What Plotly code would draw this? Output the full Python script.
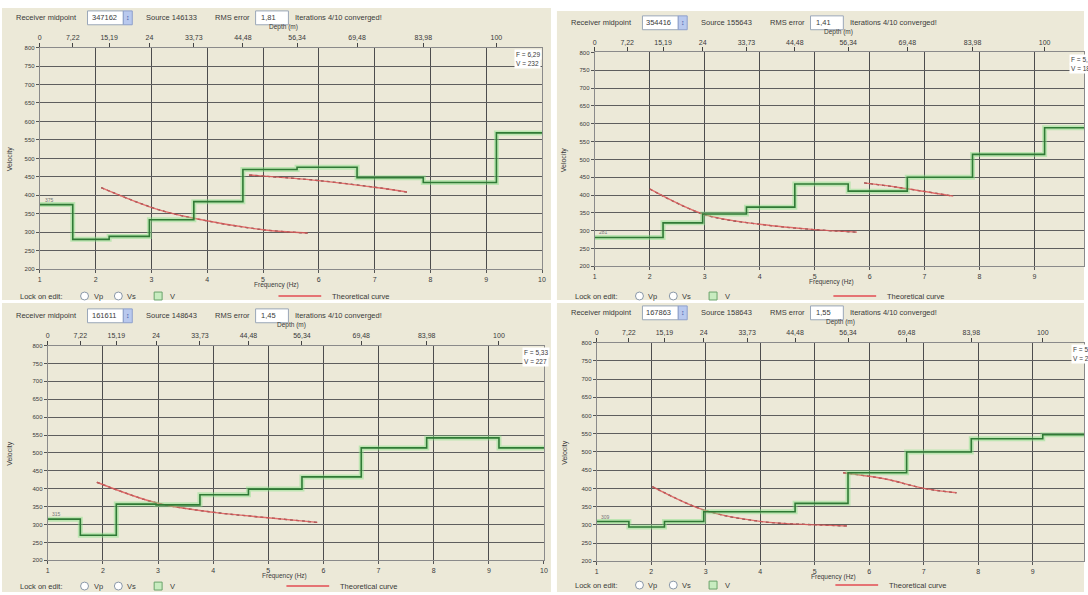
import plotly.graph_objects as go

W, H = 1088, 595

# ---- shared axes -------------------------------------------------------
depth_bounds = [0, 7.22, 15.19, 24, 33.73, 44.48, 56.34, 69.48, 83.98, 100]
depth_tick_text = ["0", "7,22", "15,19", "24", "33,73", "44,48", "56,34", "69,48", "83,98", "100"]
freq_ticks = [1, 2, 3, 4, 5, 6, 7, 8, 9, 10]
vel_ticks = [200, 250, 300, 350, 400, 450, 500, 550, 600, 650, 700, 750, 800]

# ---- per-panel header values -------------------------------------------
midpoints = ["347162", "354416", "161611", "167863"]
sources = ["146133", "155643", "148643", "158643"]
rms_errors = ["1,81", "1,41", "1,45", "1,55"]
iteration_text = ["4/10 converged!", "4/10 converged!", "4/10 converged!", "4/10 converged!"]
cursor_f = ["6,29", "5,13", "5,33", "5,06"]
cursor_v = ["232", "187", "227", "233"]

# ---- layer velocities (one value per layer, last = half-space) ---------
vel_p1 = [375, 281, 289, 334, 383, 470, 476, 448, 435, 569]
vel_p2 = [281, 281, 322, 347, 366, 431, 411, 450, 514, 589]
vel_p3 = [315, 270, 357, 355, 383, 399, 433, 514, 542, 514]
vel_p4 = [309, 294, 309, 336, 336, 359, 443, 500, 536, 547]

# ---- dispersion curves (frequency Hz, phase velocity) ------------------
p1_a_f = [2.1, 3.05, 3.76, 5.0, 5.8]
p1_a_v = [421, 365, 338, 307, 298]
p1_b_f = [4.75, 6.0, 7.1, 7.58]
p1_b_v = [455, 440, 420, 409]

p2_a_f = [2.0, 3.0, 4.0, 5.0, 5.77]
p2_a_v = [417, 345, 318, 303, 296]
p2_b_f = [5.9, 6.5, 7.52]
p2_b_v = [434, 422, 397]

p3_a_f = [1.89, 2.98, 4.02, 4.99, 5.89]
p3_a_v = [418, 360, 334, 319, 306]

p4_a_f = [2.02, 3.0, 4.03, 5.04, 5.59]
p4_a_v = [405, 339, 309, 300, 297]
p4_b_f = [5.52, 6.32, 7.0, 7.6]
p4_b_v = [443, 425, 400, 388]

profiles = [vel_p1, vel_p2, vel_p3, vel_p4]
curves = [
    [(p1_a_f, p1_a_v), (p1_b_f, p1_b_v)],
    [(p2_a_f, p2_a_v), (p2_b_f, p2_b_v)],
    [(p3_a_f, p3_a_v)],
    [(p4_a_f, p4_a_v), (p4_b_f, p4_b_v)],
]

# ---- panel geometry in pixels ------------------------------------------
panels = [
    dict(left=38, right=543, top=45, bottom=269, fmax=10.0, box=(0, 5, 552, 300), lock=296),
    dict(left=596, right=1088, top=50, bottom=266, fmax=9.9, box=(558, 8, 1088, 300), lock=296),
    dict(left=46, right=545, top=346, bottom=563, fmax=10.0, box=(0, 303, 552, 595), lock=589),
    dict(left=598, right=1088, top=343, bottom=564, fmax=9.94, box=(558, 303, 1088, 595), lock=588),
]
DEPTH_PER_HZ = 12.22  # metres of depth spanned by one Hz on the shared x scale

BEIGE = "#ece9d8"
TXT = "#3a3a3a"
FONT = "Liberation Sans"


def px(x):
    return x / W


def py(y):
    return 1 - y / H


fig = go.Figure()
shapes, annotations = [], []
layout = dict(width=W, height=H, margin=dict(l=0, r=0, t=0, b=0),
              paper_bgcolor="white", plot_bgcolor="white", showlegend=False,
              font=dict(family=FONT, size=8, color=TXT))


def text(x, y, s, size=8, anchor="left", color=TXT, angle=0, bg=None):
    a = dict(x=px(x), y=py(y), xref="paper", yref="paper", text=s, showarrow=False,
             xanchor=anchor, yanchor="middle", textangle=angle,
             font=dict(size=size, color=color, family=FONT))
    if bg:
        a["bgcolor"] = bg
    annotations.append(a)


def rect(x0, y0, x1, y1, fill, line="#8a8a8a", width=1, layer="below"):
    shapes.append(dict(type="rect", xref="paper", yref="paper", x0=px(x0), x1=px(x1),
                       y0=py(y1), y1=py(y0), fillcolor=fill,
                       line=dict(color=line, width=width), layer=layer))


for k, p in enumerate(panels):
    fi, di, yi = 2 * k + 1, 2 * k + 2, k + 1
    fname = "xaxis" if fi == 1 else f"xaxis{fi}"
    fref = "x" if fi == 1 else f"x{fi}"
    dname, dref = f"xaxis{di}", f"x{di}"
    yname = "yaxis" if yi == 1 else f"yaxis{yi}"
    yref = "y" if yi == 1 else f"y{yi}"
    dmax = (p["fmax"] - 1) * DEPTH_PER_HZ
    tick_font = dict(size=7, color=TXT, family=FONT)

    layout[fname] = dict(domain=[px(p["left"]), min(1.0, px(p["right"]))], range=[1, p["fmax"]],
                         anchor=yref, tickvals=freq_ticks, ticks="outside", ticklen=3,
                         tickcolor="#555", showgrid=True, gridcolor="#4d4d4d", gridwidth=1,
                         showline=True, linecolor="#8a8a8a", mirror=True, zeroline=False,
                         tickfont=tick_font, fixedrange=True)
    layout[dname] = dict(overlaying=fref, anchor=yref, side="top", range=[0, dmax],
                         tickvals=depth_bounds, ticktext=depth_tick_text, ticks="outside",
                         ticklen=4, tickcolor="#444", showgrid=False, showline=False,
                         zeroline=False, tickfont=tick_font, fixedrange=True)
    layout[yname] = dict(domain=[py(p["bottom"]), py(p["top"])], range=[200, 800],
                         anchor=fref, tickvals=vel_ticks, ticks="outside", ticklen=3,
                         tickcolor="#555", showgrid=True, gridcolor="#5e5e5e", gridwidth=1,
                         showline=True, linecolor="#8a8a8a", mirror=True, zeroline=False,
                         tickfont=dict(size=6, color=TXT, family=FONT), fixedrange=True)

    # panel background
    bx0, by0, bx1, by1 = p["box"]
    rect(bx0, by0, bx1, by1, BEIGE, line=BEIGE, width=0)

    # velocity profile (step over depth layers)
    vel = profiles[k]
    xs = list(depth_bounds) + [dmax]
    ys = list(vel) + [vel[-1]]
    fig.add_trace(go.Scatter(x=xs, y=ys, xaxis=dref, yaxis=yref, mode="lines",
                             line=dict(color="rgba(130,225,130,0.45)", width=5, shape="hv"),
                             hoverinfo="skip"))
    fig.add_trace(go.Scatter(x=xs, y=ys, xaxis=dref, yaxis=yref, mode="lines",
                             line=dict(color="#2f7a35", width=1.6, shape="hv"),
                             hoverinfo="skip"))
    annotations.append(dict(x=0.6, y=vel[0], xref=dref, yref=yref, text=str(vel[0]),
                            showarrow=False, xanchor="left", yanchor="bottom",
                            font=dict(size=5, color="#777", family=FONT)))

    # dispersion curves: picked (dark dotted) and theoretical (red)
    for cf, cv in curves[k]:
        fig.add_trace(go.Scatter(x=cf, y=cv, xaxis=fref, yaxis=yref, mode="lines",
                                 line=dict(color="#444", width=1.3, dash="dot",
                                           shape="spline", smoothing=1.0),
                                 hoverinfo="skip"))
        fig.add_trace(go.Scatter(x=cf, y=cv, xaxis=fref, yaxis=yref, mode="lines",
                                 line=dict(color="rgba(225,90,90,0.85)", width=1.4,
                                           shape="spline", smoothing=1.0),
                                 hoverinfo="skip"))

    # header row
    hy = p["top"] - 30
    text(bx0 + 12, hy, "Receiver midpoint", size=7.5)
    rect(bx0 + 86, hy - 7, bx0 + 122, hy + 7, "white", line="#9aa7b8")
    text(bx0 + 88, hy, midpoints[k], size=7.5)
    rect(bx0 + 122, hy - 7, bx0 + 131, hy + 7, "#b9c9ee", line="#8ea0cc")
    text(bx0 + 126.5, hy, "\u2195", size=7, anchor="center", color="#3050a0")
    text(bx0 + 143, hy, "Source " + sources[k], size=7.5)
    text(bx0 + 212, hy, "RMS error", size=7.5)
    rect(bx0 + 255, hy - 7, bx0 + 288, hy + 7, "white", line="#9aa7b8")
    text(bx0 + 258, hy, rms_errors[k], size=7.5)
    text(bx0 + 293, hy, "Iterations " + iteration_text[k], size=7.5)

    # axis titles
    text(p["left"] + 245, p["top"] - 21, "Depth (m)", size=6.5, anchor="center")
    text(p["left"] + 238, p["bottom"] + 16, "Frequency (Hz)", size=6.5, anchor="center")
    text(bx0 + 8, (p["top"] + p["bottom"]) / 2, "Velocity", size=7, anchor="center", angle=-90)

    # cursor readout
    rx = p["left"] + 477
    text(rx, p["top"] + 7, "F = " + cursor_f[k], size=6.5, bg="white")
    text(rx, p["top"] + 16, "V = " + cursor_v[k], size=6.5, bg="white")

    # bottom controls
    ly = p["lock"]
    text(bx0 + 16, ly, "Lock on edit:", size=7.5)
    for cx, label in ((bx0 + 83, "Vp"), (bx0 + 117, "Vs")):
        shapes.append(dict(type="circle", xref="paper", yref="paper",
                           x0=px(cx - 4), x1=px(cx + 4), y0=py(ly + 4), y1=py(ly - 4),
                           fillcolor="white", line=dict(color="#8a98a8", width=1)))
        text(cx + 7, ly, label, size=7.5)
    rect(bx0 + 153, ly - 4, bx0 + 161, ly + 4, "#c8ecc0", line="#6aa36a", layer="above")
    text(bx0 + 167, ly, "V", size=7.5)

    # legend
    shapes.append(dict(type="line", xref="paper", yref="paper",
                       x0=px(p["left"] + 240), x1=px(p["left"] + 283), y0=py(ly), y1=py(ly),
                       line=dict(color="#e57373", width=2)))
    text(p["left"] + 292, ly, "Theoretical curve", size=7.5)

layout["shapes"] = shapes
layout["annotations"] = annotations
fig.update_layout(**layout)
fig.write_html("out.html")
